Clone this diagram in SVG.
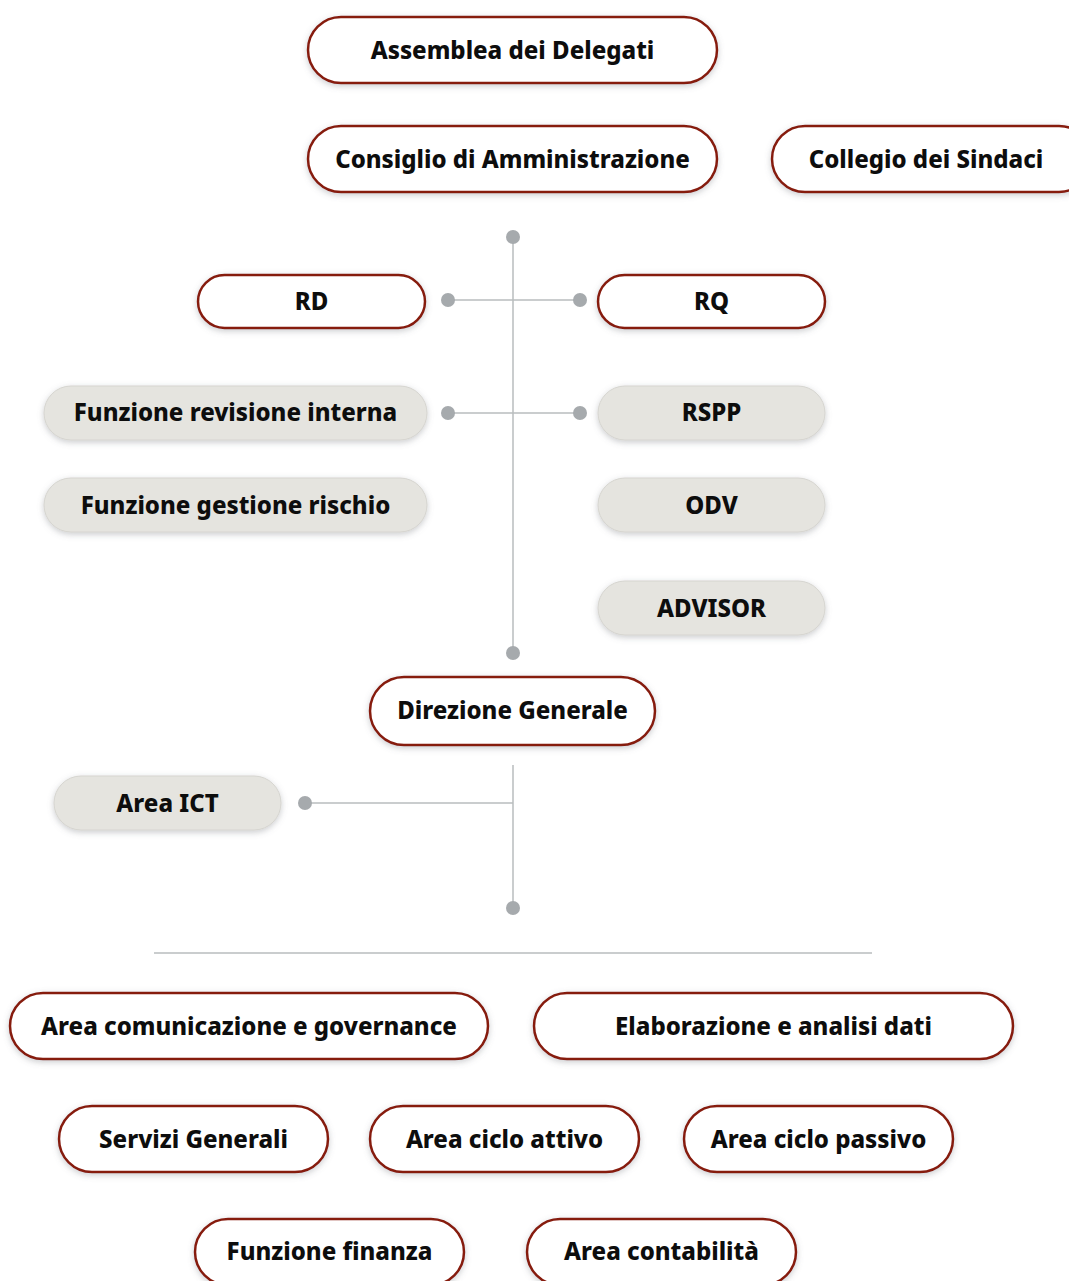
<svg xmlns="http://www.w3.org/2000/svg" width="1069" height="1281" viewBox="0 0 1069 1281">
<defs>
<filter id="sh" x="-10%" y="-30%" width="120%" height="160%">
<feDropShadow dx="0" dy="2" stdDeviation="3" flood-color="#6a7075" flood-opacity="0.35"/>
</filter>
</defs>
<style>
.w{fill:#ffffff;stroke:#861a0e;stroke-width:2.5;filter:url(#sh)}
.g{fill:#e5e4df;stroke:#d6d5d0;stroke-width:1;filter:url(#sh)}
.t{font-family:"Noto Sans","Open Sans",sans-serif;font-weight:800;font-size:24px;fill:#0d0d0d;text-anchor:middle;dominant-baseline:central}
.ln{stroke:#b9bcbe;stroke-width:1.5;fill:none}
.dot{fill:#a6aaad}
</style>
<rect width="1069" height="1281" fill="#ffffff"/>
<g id="connectors">
<line class="ln" x1="513" y1="237" x2="513" y2="653"/>
<line class="ln" x1="448" y1="300" x2="580" y2="300"/>
<line class="ln" x1="448" y1="413" x2="580" y2="413"/>
<line class="ln" x1="513" y1="765" x2="513" y2="908"/>
<line class="ln" x1="305" y1="803" x2="513" y2="803"/>
<line class="ln" x1="154" y1="953" x2="872" y2="953"/>
<circle class="dot" cx="513" cy="237" r="7"/>
<circle class="dot" cx="448" cy="300" r="7"/>
<circle class="dot" cx="580" cy="300" r="7"/>
<circle class="dot" cx="448" cy="413" r="7"/>
<circle class="dot" cx="580" cy="413" r="7"/>
<circle class="dot" cx="513" cy="653" r="7"/>
<circle class="dot" cx="305" cy="803" r="7"/>
<circle class="dot" cx="513" cy="908" r="7"/>
</g>
<g id="n-assemblea"><rect class="w" x="308" y="17" width="409" height="66" rx="33"/><text class="t" x="512.5" y="49">Assemblea dei Delegati</text></g>
<g id="n-consiglio"><rect class="w" x="308" y="126" width="409" height="66" rx="33"/><text class="t" x="512.5" y="158">Consiglio di Amministrazione</text></g>
<g id="n-collegio"><rect class="w" x="772" y="126" width="320" height="66" rx="33"/><text class="t" x="926" y="158">Collegio dei Sindaci</text></g>
<g id="n-rd"><rect class="w" x="198" y="275" width="227" height="53" rx="26.5"/><text class="t" x="311.5" y="300">RD</text></g>
<g id="n-rq"><rect class="w" x="598" y="275" width="227" height="53" rx="26.5"/><text class="t" x="711.5" y="300">RQ</text></g>
<g id="n-fri"><rect class="g" x="44" y="386" width="383" height="54" rx="27"/><text class="t" x="235.5" y="411">Funzione revisione interna</text></g>
<g id="n-rspp"><rect class="g" x="598" y="386" width="227" height="54" rx="27"/><text class="t" x="711.5" y="411">RSPP</text></g>
<g id="n-fgr"><rect class="g" x="44" y="478" width="383" height="54" rx="27"/><text class="t" x="235.5" y="504">Funzione gestione rischio</text></g>
<g id="n-odv"><rect class="g" x="598" y="478" width="227" height="54" rx="27"/><text class="t" x="711.5" y="504">ODV</text></g>
<g id="n-advisor"><rect class="g" x="598" y="581" width="227" height="54" rx="27"/><text class="t" x="711.5" y="607">ADVISOR</text></g>
<g id="n-dg"><rect class="w" x="370" y="677" width="285" height="68" rx="34"/><text class="t" x="512.5" y="709.5">Direzione Generale</text></g>
<g id="n-ict"><rect class="g" x="54" y="776" width="227" height="54" rx="27"/><text class="t" x="167.5" y="802">Area ICT</text></g>
<g id="n-acg"><rect class="w" x="10" y="993" width="478" height="66" rx="33"/><text class="t" x="249" y="1025">Area comunicazione e governance</text></g>
<g id="n-ead"><rect class="w" x="534" y="993" width="479" height="66" rx="33"/><text class="t" x="773.5" y="1025">Elaborazione e analisi dati</text></g>
<g id="n-sg"><rect class="w" x="59" y="1106" width="269" height="66" rx="33"/><text class="t" x="193.5" y="1138">Servizi Generali</text></g>
<g id="n-aca"><rect class="w" x="370" y="1106" width="269" height="66" rx="33"/><text class="t" x="504.5" y="1138">Area ciclo attivo</text></g>
<g id="n-acp"><rect class="w" x="684" y="1106" width="269" height="66" rx="33"/><text class="t" x="818.5" y="1138">Area ciclo passivo</text></g>
<g id="n-ff"><rect class="w" x="195" y="1219" width="269" height="66" rx="33"/><text class="t" x="329.5" y="1250.5">Funzione finanza</text></g>
<g id="n-ac"><rect class="w" x="527" y="1219" width="269" height="66" rx="33"/><text class="t" x="661.5" y="1250.5">Area contabilità</text></g>
</svg>
